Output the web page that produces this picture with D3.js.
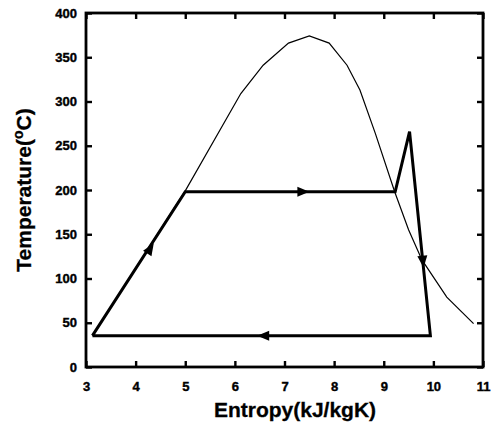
<!DOCTYPE html>
<html><head><meta charset="utf-8">
<script src="https://cdn.jsdelivr.net/npm/d3@7"></script>
<style>html,body{margin:0;padding:0;background:#fff;}</style>
</head><body>
<svg id="c" width="495" height="423"></svg>
<script>
// Saturation dome (entropy kJ/kgK, temperature °C)
const domeS = [3.13, 5.0, 6.12, 6.57, 7.08, 7.5, 7.9, 8.26, 8.52, 8.83, 9.22, 9.5, 9.77, 10.27, 10.81];
const domeT = [35.4, 199, 309, 341, 366, 374, 366, 341, 313, 264, 198, 155, 121, 79, 49];
// Cycle
const cycleS = [3.13, 5.0, 9.23, 9.52, 9.94, 3.13];
const cycleT = [35.4, 198, 198, 266, 35.4, 35.4];
// Direction arrows: position and the segment they follow
const arrowS = [4.3, 7.38, 9.79, 6.57];
const arrowT = [134, 198, 119, 35.4];
const arrowSeg = [0, 1, 3, 4];
const xTicks = [3, 4, 5, 6, 7, 8, 9, 10, 11];
const yTicks = [0, 50, 100, 150, 200, 250, 300, 350, 400];

const svg = d3.select("#c");
const L = 86, R = 483, T = 13, B = 367;
const x = d3.scaleLinear().domain([3, 11]).range([L, R]);
const y = d3.scaleLinear().domain([0, 400]).range([B, T]);
const font = "'Liberation Sans', Arial, sans-serif";

// axes with inward ticks on all sides
const axB = svg.append("g").attr("transform", `translate(0,${B})`)
  .call(d3.axisBottom(x).tickValues(xTicks).tickSize(-6).tickPadding(15).tickFormat(d3.format("d")));
const axT = svg.append("g").attr("transform", `translate(0,${T})`)
  .call(d3.axisTop(x).tickValues(xTicks).tickSize(-6).tickFormat(""));
const axL = svg.append("g").attr("transform", `translate(${L},0)`)
  .call(d3.axisLeft(y).tickValues(yTicks).tickSize(-6).tickPadding(9).tickFormat(d3.format("d")));
const axR = svg.append("g").attr("transform", `translate(${R},0)`)
  .call(d3.axisRight(y).tickValues(yTicks).tickSize(-6).tickFormat(""));
[axB, axT, axL, axR].forEach(g => {
  g.select(".domain").remove();
  g.selectAll(".tick line").attr("stroke", "#000").attr("stroke-width", 2.4);
  g.selectAll("text").attr("font-family", font).attr("font-weight", "bold").attr("font-size", 13)
    .attr("fill", "#000").attr("stroke", "#000").attr("stroke-width", 0.4);
});
svg.append("rect").attr("x", L).attr("y", T).attr("width", R - L).attr("height", B - T)
  .attr("fill", "none").attr("stroke", "#000").attr("stroke-width", 2.8);

const dome = domeS.map((s, i) => [s, domeT[i]]);
svg.append("path").attr("d", d3.line().x(d => x(d[0])).y(d => y(d[1]))(dome))
  .attr("fill", "none").attr("stroke", "#000").attr("stroke-width", 1.2);

const cyc = cycleS.map((s, i) => [s, cycleT[i]]);
svg.append("path").attr("d", d3.line().x(d => x(d[0])).y(d => y(d[1]))(cyc))
  .attr("fill", "none").attr("stroke", "#000").attr("stroke-width", 3).attr("stroke-linejoin", "miter");

arrowS.forEach((s, i) => {
  const k = arrowSeg[i];
  const dx = x(cycleS[k + 1]) - x(cycleS[k]), dy = y(cycleT[k + 1]) - y(cycleT[k]);
  const ang = Math.atan2(dy, dx) * 180 / Math.PI;
  svg.append("path").attr("d", "M6,0 L-6,-5 L-6,5 Z")
    .attr("transform", `translate(${x(s)},${y(arrowT[i])}) rotate(${ang})`)
    .attr("fill", "#000");
});

svg.append("text").attr("x", 295).attr("y", 417).attr("text-anchor", "middle")
  .attr("font-family", font).attr("font-weight", "bold").attr("font-size", 21)
  .attr("stroke", "#000").attr("stroke-width", 0.3).text("Entropy(kJ/kgK)");
const yt = svg.append("text").attr("transform", `translate(31,190) rotate(-90)`).attr("text-anchor", "middle")
  .attr("font-family", font).attr("font-weight", "bold").attr("font-size", 21)
  .attr("stroke", "#000").attr("stroke-width", 0.3);
yt.append("tspan").text("Temperature(");
yt.append("tspan").attr("font-size", 14).attr("dy", -8).text("o");
yt.append("tspan").attr("dy", 8).text("C)");
</script>
</body></html>
